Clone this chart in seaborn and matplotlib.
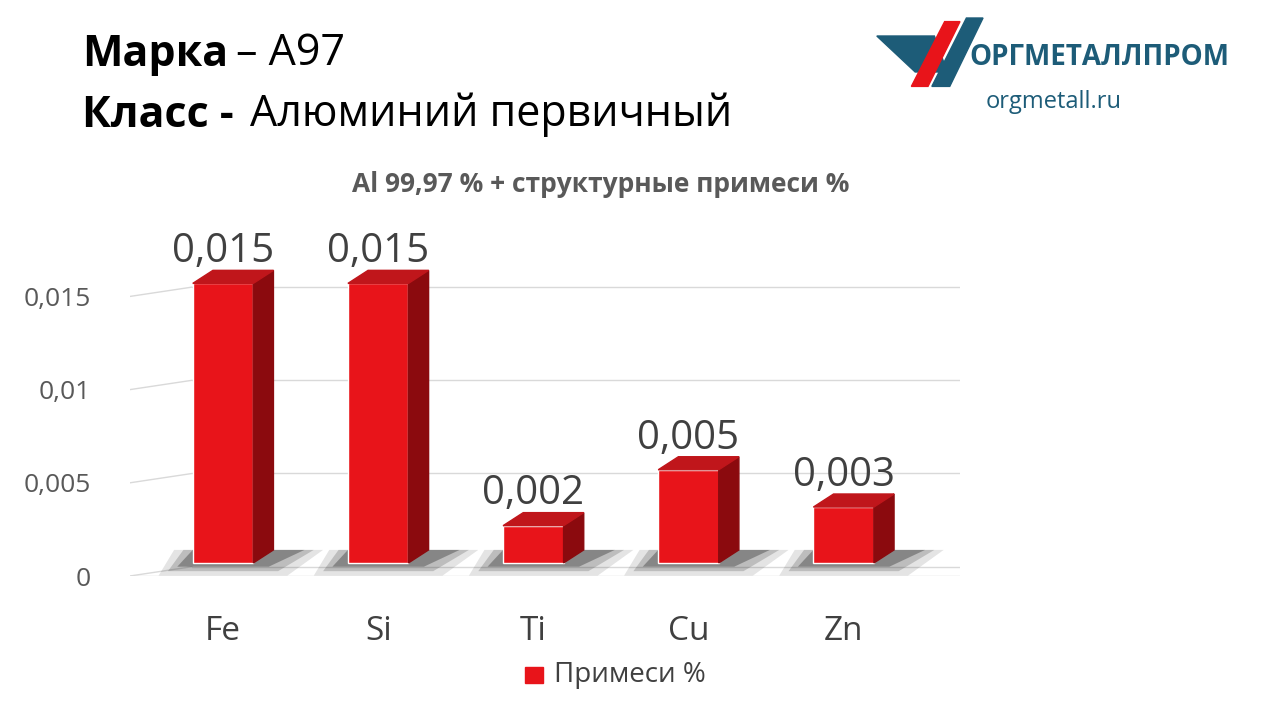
import matplotlib
matplotlib.use("Agg")
import matplotlib.pyplot as plt
import seaborn as sns
import pandas as pd
from matplotlib.patches import Polygon

elements = ["Fe", "Si", "Ti", "Cu", "Zn"]
values = [0.015, 0.015, 0.002, 0.005, 0.003]
labels = ["0,015", "0,015", "0,002", "0,005", "0,003"]
yticks = [0, 0.005, 0.01, 0.015]
yticklabels = ["0", "0,005", "0,01", "0,015"]

sns.set_theme(style="white")
plt.rcParams['font.family'] = ['Open Sans', 'DejaVu Sans']

fig = plt.figure(figsize=(12.8, 7.2), dpi=100)
ax = fig.add_axes([0.1015, 0.20, 0.6485, 0.453])
lift = 0.0007
df = pd.DataFrame({"el": elements, "v": values})
w = 0.39
sns.barplot(data=df, x="el", y="v", color="#e8141a", width=w, ax=ax, saturation=1, zorder=3, bottom=lift)
ax.set_xlim(-0.6, 4.75)
ax.set_ylim(0, 0.0175)
for y in [0.0005, 0.0055, 0.0105, 0.0155]:
    ax.plot([-0.2, 4.75], [y, y], color="#d9d9d9", lw=1, zorder=1)
    ax.plot([-0.6, -0.2], [y - 0.0005, y], color="#d9d9d9", lw=1, zorder=1)
ax.plot([-0.6, 4.75], [0, 0], color="#d9d9d9", lw=1, zorder=1)
dx, dy = 0.13, 0.0007
for i, v in enumerate(values):
    x0, x1 = i - w / 2, i + w / 2
    b, t = lift, v + lift
    for k, a in [(0.12, 0.12), (0.06, 0.2), (0.0, 0.35)]:
        ax.add_patch(Polygon([[x0 - 0.1 - k, b - 0.0002 - k * 0.004], [x1 + 0.1 + k, b - 0.0002 - k * 0.004],
                              [x1 + dx + 0.2 + k, b + dy], [x0 + 0.0 - k, b + dy]],
                             color="#222222", alpha=a, lw=0, zorder=2))
    ax.add_patch(Polygon([[x1, b], [x1 + dx, b + dy], [x1 + dx, t + dy], [x1, t]], color="#8b0a0e", zorder=4))
    ax.add_patch(Polygon([[x0, t], [x0 + dx, t + dy], [x1 + dx, t + dy], [x1, t]], color="#c0161b", zorder=4))
    ax.text(i + 0.0, t + dy - 0.0001, labels[i], ha="center", va="bottom", fontsize=29, color="#404040", zorder=5)
ax.set_yticks(yticks)
ax.set_yticklabels(yticklabels, fontsize=19, color="#595959")
ax.tick_params(axis="x", labelsize=24, labelcolor="#404040", pad=22)
ax.tick_params(axis="y", pad=22)
ax.set_xlabel("")
ax.set_ylabel("")
for s in ax.spines.values():
    s.set_visible(False)

fig.text(0.469, 0.734, "Al 99,97 % + структурные примеси %", ha="center", fontsize=19, fontweight="bold", color="#595959")
fig.text(0.064, 0.925, "Марка", fontsize=31, fontweight="bold", color="black", va="center")
fig.text(0.184, 0.925, "– А97", fontsize=31, color="black", va="center")
fig.text(0.064, 0.84, "Класс -", fontsize=31, fontweight="bold", color="black", va="center")
fig.text(0.195, 0.84, "Алюминий первичный", fontsize=31, color="black", va="center")

# logo
fig.patches.append(Polygon([[0.685, 0.95], [0.73, 0.95], [0.74, 0.90], [0.715, 0.90]], closed=True, transform=fig.transFigure, color="#1d5c78"))
fig.patches.append(Polygon([[0.712, 0.88], [0.738, 0.97], [0.75, 0.97], [0.725, 0.88]], closed=True, transform=fig.transFigure, color="#e8141a"))
fig.patches.append(Polygon([[0.728, 0.88], [0.755, 0.975], [0.768, 0.975], [0.742, 0.88]], closed=True, transform=fig.transFigure, color="#1d5c78"))
fig.text(0.757, 0.92, "ОРГМЕТАЛЛПРОМ", fontsize=20, fontweight="bold", color="#1d5c78", va="center")
fig.text(0.77, 0.858, "orgmetall.ru", fontsize=17, color="#1d5c78", va="center")

# legend
fig.patches.append(Polygon([[0.41, 0.052], [0.424, 0.052], [0.424, 0.074], [0.41, 0.074]], closed=True, transform=fig.transFigure, color="#e8141a"))
fig.text(0.433, 0.062, "Примеси %", fontsize=20, color="#404040", va="center")

fig.savefig("out.png", dpi=100)
